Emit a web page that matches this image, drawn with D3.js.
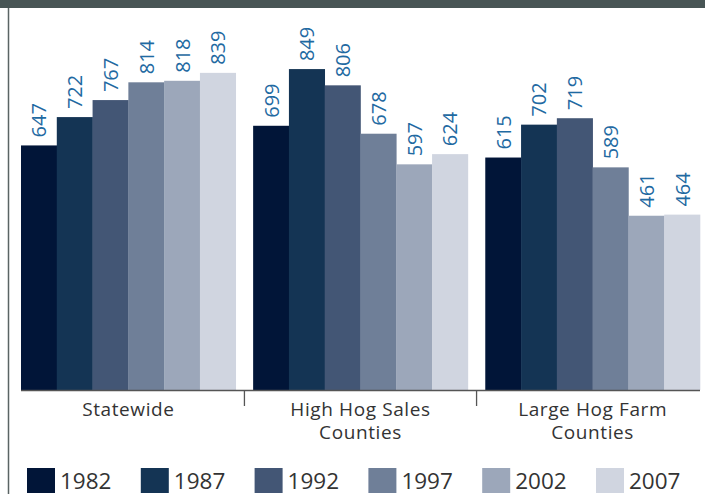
<!DOCTYPE html>
<html><head><meta charset="utf-8">
<script src="https://cdn.jsdelivr.net/npm/d3@7"></script>
<style>body{margin:0;background:#fff;}svg{display:block;}</style>
</head><body>
<script>
const categories = [["Statewide"], ["High Hog Sales", "Counties"], ["Large Hog Farm", "Counties"]];
const years = ["1982", "1987", "1992", "1997", "2002", "2007"];
const values = [
  [647, 722, 767, 814, 818, 839],
  [699, 849, 806, 678, 597, 624],
  [615, 702, 719, 589, 461, 464]
];
const colors = ["#011538", "#143454", "#435675", "#6f7f98", "#9ca7ba", "#d0d5e0"];

const W = 705, H = 494;
const svg = d3.select("body").append("svg").attr("width", W).attr("height", H);
svg.append("rect").attr("x",0).attr("y",0).attr("width",W).attr("height",8).attr("fill","#485555");
svg.append("line").attr("x1",8.5).attr("x2",8.5).attr("y1",8).attr("y2",H).attr("stroke","#5a6464").attr("stroke-width",1.5);

const x0 = d3.scaleBand().domain(d3.range(categories.length)).range([21, 700]).paddingInner(0.075).paddingOuter(0);
const x1 = d3.scaleBand().domain(years).range([0, x0.bandwidth()]).padding(0);
const y = d3.scaleLinear().domain([0, 1000]).range([390, 12]);

const g = svg.append("g");
values.forEach((row, ci) => {
  const gg = g.append("g").attr("transform", `translate(${x0(ci)},0)`);
  gg.selectAll("rect").data(row).join("rect")
    .attr("x", (d,i) => x1(years[i]))
    .attr("y", d => y(d))
    .attr("width", x1.bandwidth()+0.3)
    .attr("height", d => y(0) - y(d))
    .attr("fill", (d,i) => colors[i]);
  gg.selectAll("text").data(row).join("text")
    .attr("transform", (d,i) => `translate(${x1(years[i]) + x1.bandwidth()/2 + 7.5},${y(d) - 8}) rotate(-90)`)
    .attr("font-family", "'Open Sans', sans-serif")
    .attr("font-size", 20)
    .attr("fill", "#1f6aa2")
    .text(d => d);
});

// axis
svg.append("line").attr("x1",21).attr("x2",700).attr("y1",390.5).attr("y2",390.5).attr("stroke","#555").attr("stroke-width",1.3);
for (let i = 1; i < categories.length; i++) {
  const bx = x0(i) - x0.step()*x0.paddingInner()/2;
  svg.append("line").attr("x1",bx).attr("x2",bx).attr("y1",390).attr("y2",406).attr("stroke","#555").attr("stroke-width",1.3);
}
categories.forEach((lines, ci) => {
  lines.forEach((l, li) => svg.append("text")
    .attr("x", x0(ci) + x0.bandwidth()/2).attr("y", 416 + li*23)
    .attr("text-anchor","middle").attr("font-family","'Open Sans', sans-serif")
    .attr("font-size", 19).attr("letter-spacing", 0.6).attr("fill","#333").text(l));
});

// legend
const leg = svg.append("g");
years.forEach((yr, i) => {
  const lx = 27 + i*113.8;
  leg.append("rect").attr("x", lx).attr("y", 468).attr("width", 28).attr("height", 25).attr("fill", colors[i]);
  leg.append("text").attr("x", lx + 33).attr("y", 489).attr("font-family","'Open Sans', sans-serif")
    .attr("font-size", 22.5).attr("fill","#333").text(yr);
});
</script>
</body></html>
